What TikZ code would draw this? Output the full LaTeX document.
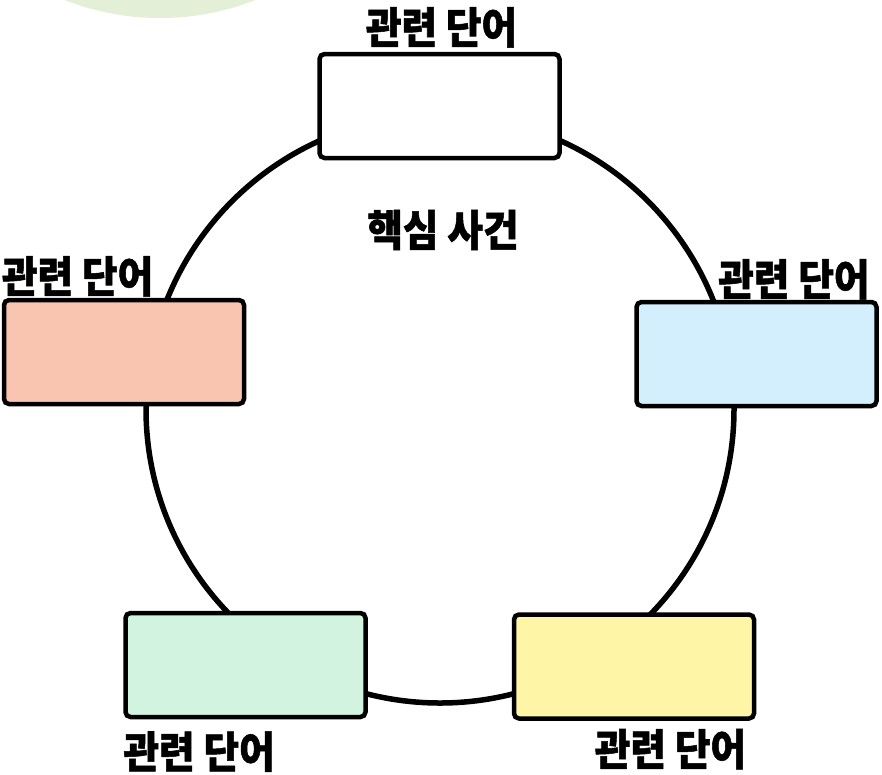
\documentclass[tikz,border=0pt]{standalone}
\usepackage{fontspec}
\setmainfont{Noto Sans CJK KR}[BoldFont={Noto Sans CJK KR Black},BoldFeatures={FakeBold=1.2,FakeStretch=0.9}]
\usetikzlibrary{positioning}
\definecolor{blobgreen}{HTML}{E3EFD6}
\definecolor{wordred}{HTML}{F9C5B1}
\definecolor{wordblue}{HTML}{D3EEFC}
\definecolor{wordgreen}{HTML}{D2F3E0}
\definecolor{wordyellow}{HTML}{FEF6A6}
\newcommand{\wordlabel}{관련 단어}

\begin{document}
\begin{tikzpicture}[x=1pt,y=-1pt,
    wordbox/.style={draw=black,line width=4.5pt,rounded corners=5pt,
      minimum width=240pt,minimum height=104pt,inner sep=0pt},
    wordtext/.style={inner sep=0pt,font=\fontsize{43}{46}\selectfont\bfseries}]
        \clip (0,0) rectangle (882,774);
        \fill[white] (0,0) rectangle (882,774);
        \fill[blobgreen] (160,-242) circle[radius=260];
        % Ring
        \coordinate (hub) at (440,409);
        \draw[line width=5.5pt] (hub) circle[radius=294];
        \node[wordtext] (event) at (443,230) {핵심 사건};
        %
        % Word boxes:
        \node[wordbox,fill=white] (wtop) at (439.5,106) {};
        \node[wordbox,fill=wordred] (wleft) at (124,352) {};
        \node[wordbox,fill=wordblue] (wright) at (756.5,354) {};
        \node[wordbox,fill=wordgreen] (wbotl) at (245.5,665) {};
        \node[wordbox,fill=wordyellow] (wbotr) at (634,666.5) {};
        %
        % Labels:
        \node[wordtext,above=4pt of wtop,xshift=2pt] (ltop) {\wordlabel};
        \node[wordtext,above=1pt of wleft.north west,anchor=south west] (lleft) {\wordlabel};
        \node[wordtext,above=0pt of wright.north east,anchor=south east,xshift=-9pt] (lright) {\wordlabel};
        \node[wordtext,below=12pt of wbotl.south west,anchor=north west] (lbotl) {\wordlabel};
        \node[wordtext,below=8pt of wbotr.south east,anchor=north east,xshift=-10pt] (lbotr) {\wordlabel};
\end{tikzpicture}
\end{document}
